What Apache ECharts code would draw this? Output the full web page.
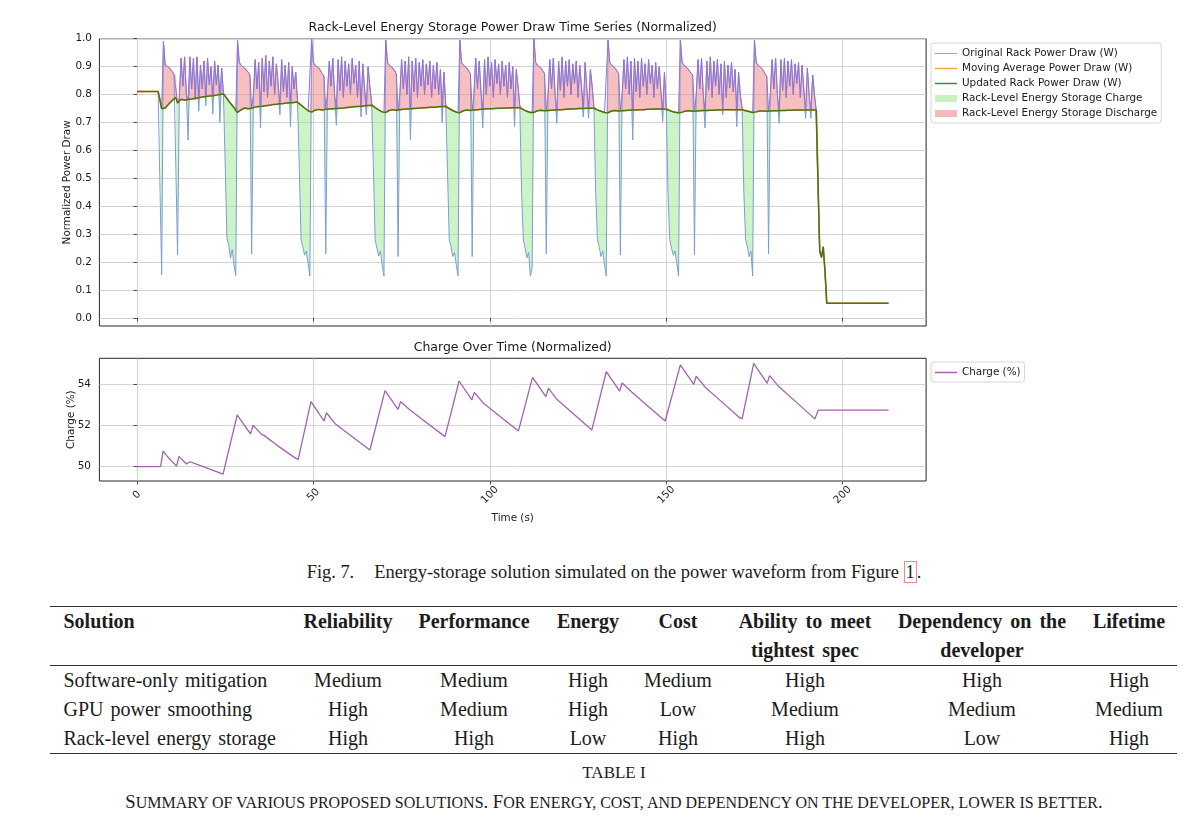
<!DOCTYPE html>
<html lang="en">
<head>
<meta charset="utf-8">
<title>Rack-Level Energy Storage Power Draw</title>
<script src="https://cdn.jsdelivr.net/npm/echarts@6.0.0/dist/echarts.min.js"></script>
<style>
    html, body { margin: 0; padding: 0; background: #fff; }
    #page { position: relative; width: 1200px; height: 833px; overflow: hidden; }
    #chart { position: absolute; left: 0; top: 0; width: 1200px; height: 540px; }
    .serif { font-family: "Liberation Serif", "Times New Roman", serif; color: #1c1c1c; }
    #figCaption { position: absolute; left: 0; top: 560px; width: 1228px; text-align: center; font-size: 18.4px; line-height: 24px; }
    #figCaption .gap { display: inline-block; width: 20px; }
    #figCaption .ref { border: 1px solid #e58c8c; padding: 0 1px; }
    #summaryTable { position: absolute; left: 50px; top: 606px; border-collapse: collapse; table-layout: fixed; width: 1127px; font-size: 20px; line-height: 29px; word-spacing: 2px; }
    #summaryTable th, #summaryTable td { padding: 0; text-align: center; vertical-align: top; white-space: nowrap; }
    #summaryTable th { font-weight: bold; word-spacing: 3px; border-top: 1.6px solid #333; border-bottom: 1px solid #333; }
    #summaryTable tr:last-child td { border-bottom: 1.6px solid #333; }
    #summaryTable .first { text-align: left; padding-left: 13.5px; }
    #tableLabel { position: absolute; left: 0; top: 761px; width: 1228px; text-align: center; font-size: 17px; line-height: 24px; }
    #tableCaption { position: absolute; left: 0; top: 790px; width: 1228px; text-align: center; font-size: 18.6px; line-height: 24px; }
    #tableCaption .sc { font-size: 0.86em; }
</style>
</head>
<body>
<div id="page">
    <div id="chart"></div>
    <div id="figCaption" class="serif">Fig. 7.<span class="gap"></span>Energy-storage solution simulated on the power waveform from Figure <span class="ref">1</span>.</div>
    <table id="summaryTable" class="serif"></table>
    <div id="tableLabel" class="serif">TABLE I</div>
    <div id="tableCaption" class="serif">S<span class="sc">UMMARY OF VARIOUS PROPOSED SOLUTIONS</span>. F<span class="sc">OR ENERGY, COST, AND DEPENDENCY ON THE DEVELOPER, LOWER IS BETTER</span>.</div>
</div>
<script>
// 功率序列：从 t = 0 s 起每 0.5 s 一个采样点
const SAMPLE_STEP = 0.5;

// 原始机架功率（归一化）
const originalDraw = [
    // 0.0 - 6.5 s
    0.811, 0.811, 0.811, 0.811, 0.811, 0.811, 0.811,
    0.811, 0.811, 0.811, 0.811, 0.811, 0.811, 0.811,
    // 7.0 - 28.0 s
    0.155, 0.990, 0.905, 0.900, 0.898, 0.894, 0.882, 0.872, 0.868, 0.226,
    0.790, 0.930, 0.830, 0.935, 0.800, 0.637, 0.935, 0.820, 0.930, 0.780,
    0.935, 0.740, 0.906, 0.820, 0.920, 0.760, 0.930, 0.835, 0.900, 0.730,
    0.920, 0.835, 0.906, 0.700, 0.895, 0.805, 0.550, 0.285, 0.262, 0.214,
    0.245, 0.190, 0.152,
    // 28.5 - 49.0 s
    0.995, 0.915, 0.905, 0.900, 0.895, 0.890, 0.880, 0.870, 0.230, 0.800,
    0.925, 0.820, 0.915, 0.680, 0.930, 0.810, 0.940, 0.790, 0.920, 0.830,
    0.935, 0.800, 0.910, 0.840, 0.727, 0.925, 0.810, 0.905, 0.790, 0.915,
    0.685, 0.900, 0.820, 0.880, 0.775, 0.540, 0.280, 0.255, 0.225, 0.240,
    0.195, 0.150,
    // 49.5 - 70.0 s
    1.000, 0.915, 0.905, 0.900, 0.895, 0.890, 0.875, 0.865, 0.230, 0.810,
    0.920, 0.830, 0.930, 0.800, 0.690, 0.925, 0.815, 0.935, 0.790, 0.920,
    0.830, 0.910, 0.800, 0.930, 0.840, 0.905, 0.790, 0.920, 0.720, 0.910,
    0.820, 0.727, 0.900, 0.830, 0.770, 0.540, 0.280, 0.250, 0.222, 0.240,
    0.190, 0.150,
    // 70.5 - 91.0 s
    0.995, 0.915, 0.905, 0.900, 0.895, 0.885, 0.875, 0.220, 0.800, 0.925,
    0.820, 0.920, 0.800, 0.935, 0.637, 0.920, 0.810, 0.930, 0.790, 0.915,
    0.830, 0.925, 0.800, 0.910, 0.835, 0.920, 0.790, 0.905, 0.820, 0.915,
    0.800, 0.890, 0.700, 0.880, 0.765, 0.530, 0.280, 0.255, 0.220, 0.235,
    0.190, 0.150,
    // 91.5 - 112.0 s
    0.995, 0.915, 0.905, 0.900, 0.895, 0.885, 0.875, 0.220, 0.800, 0.930,
    0.820, 0.920, 0.810, 0.680, 0.925, 0.800, 0.935, 0.830, 0.915, 0.790,
    0.925, 0.840, 0.910, 0.800, 0.920, 0.830, 0.905, 0.790, 0.915, 0.820,
    0.900, 0.685, 0.890, 0.830, 0.760, 0.450, 0.280, 0.250, 0.215, 0.235,
    0.150, 0.180,
    // 112.5 - 133.0 s
    1.000, 0.915, 0.905, 0.900, 0.895, 0.885, 0.875, 0.230, 0.800, 0.925,
    0.820, 0.930, 0.800, 0.697, 0.920, 0.815, 0.935, 0.790, 0.920, 0.830,
    0.925, 0.800, 0.910, 0.840, 0.920, 0.790, 0.905, 0.825, 0.720, 0.915,
    0.820, 0.715, 0.890, 0.830, 0.755, 0.450, 0.280, 0.255, 0.220, 0.240,
    0.190, 0.150,
    // 133.5 - 153.5 s
    0.995, 0.915, 0.905, 0.900, 0.895, 0.885, 0.875, 0.226, 0.800, 0.925,
    0.820, 0.935, 0.800, 0.920, 0.637, 0.930, 0.810, 0.920, 0.790, 0.930,
    0.830, 0.910, 0.800, 0.925, 0.840, 0.905, 0.790, 0.915, 0.820, 0.900,
    0.810, 0.703, 0.880, 0.755, 0.450, 0.280, 0.250, 0.225, 0.240, 0.195,
    0.150,
    // 154.0 - 174.5 s
    0.995, 0.915, 0.905, 0.900, 0.895, 0.885, 0.880, 0.870, 0.226, 0.800,
    0.925, 0.820, 0.930, 0.800, 0.680, 0.920, 0.815, 0.935, 0.790, 0.920,
    0.830, 0.925, 0.800, 0.910, 0.727, 0.920, 0.790, 0.905, 0.825, 0.915,
    0.810, 0.890, 0.685, 0.880, 0.800, 0.750, 0.450, 0.280, 0.255, 0.220,
    0.240, 0.150,
    // 175.0 - 193.0 s
    0.995, 0.915, 0.905, 0.900, 0.895, 0.885, 0.875, 0.865, 0.230, 0.800,
    0.925, 0.820, 0.930, 0.800, 0.697, 0.925, 0.815, 0.930, 0.790, 0.920,
    0.830, 0.925, 0.800, 0.910, 0.840, 0.915, 0.790, 0.905, 0.820, 0.715,
    0.895, 0.800, 0.715, 0.870, 0.800, 0.745, 0.450,
    // 193.5 - 213.0 s
    0.240, 0.217, 0.255, 0.166, 0.0525, 0.0525, 0.0525, 0.0525, 0.0525, 0.0525,
    0.0525, 0.0525, 0.0525, 0.0525, 0.0525, 0.0525, 0.0525, 0.0525, 0.0525, 0.0525,
    0.0525, 0.0525, 0.0525, 0.0525, 0.0525, 0.0525, 0.0525, 0.0525, 0.0525, 0.0525,
    0.0525, 0.0525, 0.0525, 0.0525, 0.0525, 0.0525, 0.0525, 0.0525, 0.0525, 0.0525
];

// 储能平滑后的机架功率（同一采样点）
const updatedDraw = [
    // 0.0 - 6.5 s
    0.811, 0.811, 0.811, 0.811, 0.811, 0.811, 0.811,
    0.811, 0.811, 0.811, 0.811, 0.811, 0.811, 0.811,
    // 7.0 - 28.0 s
    0.750, 0.745, 0.752, 0.759, 0.766, 0.773, 0.779, 0.785, 0.790, 0.770,
    0.776, 0.783, 0.781, 0.780, 0.781, 0.782, 0.783, 0.784, 0.786, 0.787,
    0.788, 0.789, 0.790, 0.791, 0.792, 0.793, 0.794, 0.795, 0.796, 0.796,
    0.797, 0.798, 0.799, 0.800, 0.801, 0.802, 0.794, 0.786, 0.777, 0.769,
    0.761, 0.753, 0.744,
    // 28.5 - 49.0 s
    0.736, 0.741, 0.745, 0.749, 0.752, 0.752, 0.749, 0.748, 0.751, 0.754,
    0.755, 0.756, 0.757, 0.758, 0.758, 0.759, 0.760, 0.761, 0.762, 0.763,
    0.764, 0.764, 0.765, 0.766, 0.767, 0.768, 0.768, 0.769, 0.770, 0.771,
    0.771, 0.772, 0.772, 0.773, 0.773, 0.768, 0.762, 0.757, 0.752, 0.747,
    0.742, 0.739,
    // 49.5 - 70.0 s
    0.737, 0.741, 0.744, 0.746, 0.747, 0.747, 0.745, 0.745, 0.747, 0.748,
    0.748, 0.749, 0.749, 0.750, 0.750, 0.751, 0.751, 0.752, 0.752, 0.753,
    0.754, 0.754, 0.755, 0.755, 0.756, 0.757, 0.757, 0.758, 0.758, 0.759,
    0.760, 0.760, 0.761, 0.761, 0.762, 0.758, 0.753, 0.749, 0.745, 0.741,
    0.738, 0.736,
    // 70.5 - 91.0 s
    0.736, 0.740, 0.743, 0.745, 0.746, 0.746, 0.744, 0.744, 0.746, 0.746,
    0.747, 0.747, 0.748, 0.748, 0.749, 0.749, 0.750, 0.750, 0.751, 0.751,
    0.752, 0.752, 0.753, 0.753, 0.754, 0.754, 0.755, 0.755, 0.755, 0.756,
    0.756, 0.756, 0.757, 0.757, 0.757, 0.753, 0.750, 0.746, 0.743, 0.740,
    0.737, 0.735,
    // 91.5 - 112.0 s
    0.735, 0.739, 0.742, 0.744, 0.745, 0.745, 0.743, 0.743, 0.745, 0.745,
    0.746, 0.746, 0.747, 0.747, 0.748, 0.748, 0.749, 0.749, 0.749, 0.750,
    0.750, 0.750, 0.751, 0.751, 0.751, 0.752, 0.752, 0.752, 0.752, 0.753,
    0.753, 0.753, 0.753, 0.753, 0.753, 0.750, 0.746, 0.743, 0.740, 0.738,
    0.736, 0.736,
    // 112.5 - 133.0 s
    0.736, 0.739, 0.742, 0.743, 0.744, 0.744, 0.742, 0.742, 0.743, 0.744,
    0.744, 0.745, 0.745, 0.745, 0.746, 0.746, 0.746, 0.747, 0.747, 0.747,
    0.748, 0.748, 0.748, 0.749, 0.749, 0.749, 0.750, 0.750, 0.750, 0.750,
    0.751, 0.751, 0.751, 0.751, 0.751, 0.748, 0.745, 0.742, 0.740, 0.738,
    0.736, 0.735,
    // 133.5 - 153.5 s
    0.735, 0.738, 0.741, 0.742, 0.743, 0.743, 0.741, 0.741, 0.742, 0.743,
    0.743, 0.744, 0.744, 0.744, 0.745, 0.745, 0.745, 0.746, 0.746, 0.746,
    0.746, 0.747, 0.747, 0.747, 0.747, 0.748, 0.748, 0.748, 0.748, 0.748,
    0.748, 0.748, 0.748, 0.748, 0.745, 0.742, 0.740, 0.738, 0.737, 0.736,
    0.735,
    // 154.0 - 174.5 s
    0.735, 0.737, 0.740, 0.741, 0.742, 0.742, 0.741, 0.740, 0.740, 0.741,
    0.742, 0.742, 0.742, 0.743, 0.743, 0.743, 0.744, 0.744, 0.744, 0.744,
    0.745, 0.745, 0.745, 0.745, 0.745, 0.746, 0.746, 0.746, 0.746, 0.746,
    0.746, 0.746, 0.746, 0.746, 0.746, 0.746, 0.744, 0.742, 0.740, 0.739,
    0.737, 0.736,
    // 175.0 - 193.0 s
    0.736, 0.738, 0.740, 0.741, 0.741, 0.741, 0.740, 0.740, 0.740, 0.741,
    0.741, 0.742, 0.742, 0.742, 0.743, 0.743, 0.743, 0.743, 0.744, 0.744,
    0.744, 0.744, 0.744, 0.745, 0.745, 0.745, 0.745, 0.745, 0.745, 0.745,
    0.745, 0.745, 0.745, 0.745, 0.745, 0.745, 0.745,
    // 193.5 - 213.0 s
    0.240, 0.217, 0.255, 0.166, 0.0525, 0.0525, 0.0525, 0.0525, 0.0525, 0.0525,
    0.0525, 0.0525, 0.0525, 0.0525, 0.0525, 0.0525, 0.0525, 0.0525, 0.0525, 0.0525,
    0.0525, 0.0525, 0.0525, 0.0525, 0.0525, 0.0525, 0.0525, 0.0525, 0.0525, 0.0525,
    0.0525, 0.0525, 0.0525, 0.0525, 0.0525, 0.0525, 0.0525, 0.0525, 0.0525, 0.0525
];

// 移动平均与平滑后曲线重合（图中被绿色曲线盖住）
const movingAvgDraw = updatedDraw;

// 储能电量（%）
const chargeTime = [
    0, 6.7, 7.4, 9.0, 11.2, 11.9, 14.0, 15.0, 18.0, 21.0, 24.4, 24.9,
    28.4, 30.5, 32.2, 32.9, 35.3, 36.0, 40.0, 44.7, 45.7,
    49.3, 51.5, 53.0, 53.7, 56.1, 60.0, 66.0, 66.5,
    70.3, 74.0, 74.7, 77.4, 82.0, 87.3, 87.7,
    91.3, 94.9, 95.6, 98.2, 103.0, 108.1, 108.6,
    112.1, 115.9, 116.6, 119.0, 124.0, 128.9, 129.4,
    133.0, 136.8, 137.5, 140.3, 145.0, 149.7, 150.2,
    154.0, 157.8, 158.5, 161.1, 166.0, 170.8, 171.5,
    174.8, 178.6, 179.3, 181.9, 187.0, 191.4, 192.1, 193.1, 213.0
];
const chargePct = [
    50.0, 50.0, 50.76, 50.42, 50.03, 50.50, 50.13, 50.24, 50.05, 49.86, 49.64, 49.62,
    52.51, 52.0, 51.59, 52.02, 51.57, 51.52, 51.0, 50.44, 50.36,
    53.16, 52.6, 52.22, 52.62, 52.10, 51.59, 50.81, 50.76,
    53.69, 52.78, 53.16, 52.75, 52.15, 51.46, 51.38,
    54.16, 53.24, 53.61, 53.08, 52.43, 51.73, 51.68,
    54.34, 53.40, 53.81, 53.27, 52.52, 51.78, 51.73,
    54.61, 53.67, 54.06, 53.61, 52.91, 52.22, 52.15,
    54.94, 54.0, 54.39, 53.85, 53.11, 52.38, 52.32,
    55.02, 54.05, 54.42, 53.89, 53.11, 52.43, 52.32, 52.75, 52.75
];

// 刻度
const timeTicks = [0, 50, 100, 150, 200];
const powerTicks = [0.0, 0.1, 0.2, 0.3, 0.4, 0.5, 0.6, 0.7, 0.8, 0.9, 1.0];
const chargeTicks = [50, 52, 54];

// 表格内容
const tableHeader = [
    ['Solution'], ['Reliability'], ['Performance'], ['Energy'], ['Cost'],
    ['Ability to meet', 'tightest spec'], ['Dependency on the', 'developer'], ['Lifetime']
];
const solutionNames = ['Software-only mitigation', 'GPU power smoothing', 'Rack-level energy storage'];
const ratingRows = [
    ['Medium', 'Medium', 'High', 'Medium', 'High', 'High', 'High'],
    ['High', 'Medium', 'High', 'Low', 'Medium', 'Medium', 'Medium'],
    ['High', 'High', 'Low', 'High', 'High', 'Low', 'High']
];
const columnWidths = [245, 106, 146, 82, 98, 156, 198, 96];

// 样式常量
const FONT = 'DejaVu Sans';
const INK = '#1a1a1a';
const FRAME = '#262626';
const GRID_COLOR = '#c9c9c9';
const X_MIN = -10.65;
const X_MAX = 223.65;
const LINE_ICON = 'path://M0,0h0.01v0.01h-0.01zM0,2.9h22v1.2h-22zM0,6.99h0.01v0.01h-0.01z';
const THICK_ICON = 'path://M0,0h0.01v0.01h-0.01zM0,2.75h22v1.5h-22zM0,6.99h0.01v0.01h-0.01z';

const chartDom = document.getElementById('chart');
const powerChart = echarts.init(chartDom);

// 生成表格
function buildTable() {
    const table = document.getElementById('summaryTable');
    const colgroup = document.createElement('colgroup');
    columnWidths.forEach(w => {
        const col = document.createElement('col');
        col.style.width = w + 'px';
        colgroup.appendChild(col);
    });
    table.appendChild(colgroup);

    const headRow = table.createTHead().insertRow();
    tableHeader.forEach((lines, i) => {
        const th = document.createElement('th');
        th.innerHTML = lines.join('<br>');
        if (i === 0) th.className = 'first';
        headRow.appendChild(th);
    });

    const body = table.createTBody();
    solutionNames.forEach((name, r) => {
        const tr = body.insertRow();
        const first = tr.insertCell();
        first.textContent = name;
        first.className = 'first';
        ratingRows[r].forEach(v => {
            tr.insertCell().textContent = v;
        });
    });
}

// 时间轴（两张子图共用同一范围）
function timeAxis(gridIndex, showLabels) {
    const axis = {
        type: 'value',
        gridIndex: gridIndex,
        min: X_MIN,
        max: X_MAX,
        minInterval: 50,
        maxInterval: 50,
        axisLine: { show: false },
        axisTick: { show: true, customValues: timeTicks, length: 3.5, lineStyle: { color: FRAME, width: 0.8 } },
        axisLabel: { show: false },
        splitLine: { show: true, lineStyle: { color: GRID_COLOR, width: 0.8 } }
    };
    if (showLabels) {
        axis.axisLabel = {
            show: true,
            customValues: timeTicks,
            rotate: 45,
            align: 'center',
            verticalAlign: 'middle',
            margin: 14,
            fontFamily: FONT,
            fontSize: 10.4,
            color: INK
        };
        axis.name = 'Time (s)';
        axis.nameLocation = 'middle';
        axis.nameGap = 32;
        axis.nameMoveOverlap = false;
        axis.nameTextStyle = { fontFamily: FONT, fontSize: 10.4, color: INK };
    }
    return axis;
}

function legendBox(top, items) {
    return {
        orient: 'vertical',
        left: 931,
        top: top,
        padding: [3, 4, 2, 4],
        itemWidth: 22,
        itemHeight: 7,
        itemGap: 0,
        borderColor: '#cccccc',
        borderWidth: 0.8,
        borderRadius: 3,
        backgroundColor: 'rgba(255,255,255,0.8)',
        selectedMode: false,
        textStyle: { fontFamily: FONT, fontSize: 10.4, color: INK, lineHeight: 15 },
        data: items
    };
}

// 两条曲线之间的填充带：维度 0 = 时间，1 = 下沿，2 = 上沿
function renderBand(fillColor) {
    return function (params, api) {
        if (params.dataIndexInside !== 0) return null;
        const n = params.dataInsideLength;
        const points = [];
        for (let j = 0; j < n; j++) {
            points.push(api.coord([api.value(0, j), api.value(2, j)]));
        }
        for (let j = n - 1; j >= 0; j--) {
            points.push(api.coord([api.value(0, j), api.value(1, j)]));
        }
        return {
            type: 'polygon',
            shape: { points: points },
            style: { fill: fillColor }
        };
    };
}

function buildOption() {
    const timeOf = i => i * SAMPLE_STEP;
    const originalPts = originalDraw.map((v, i) => [timeOf(i), v]);
    const updatedPts = updatedDraw.map((v, i) => [timeOf(i), v]);
    const movingPts = movingAvgDraw.map((v, i) => [timeOf(i), v]);
    // 充电：原始低于平滑的部分；放电：原始高于平滑的部分
    const chargeBand = originalDraw.map((v, i) => [timeOf(i), Math.min(v, updatedDraw[i]), updatedDraw[i]]);
    const dischargeBand = originalDraw.map((v, i) => [timeOf(i), updatedDraw[i], Math.max(v, updatedDraw[i])]);
    const dischargeEdge = originalDraw.map((v, i) => [timeOf(i), Math.max(v, updatedDraw[i])]);
    const chargePts = chargeTime.map((t, i) => [t, chargePct[i]]);

    const plainLine = { type: 'line', symbol: 'none', showSymbol: false, smooth: false, animation: false };

    return {
        animation: false,
        textStyle: { fontFamily: FONT },
        title: [
            {
                text: 'Rack-Level Energy Storage Power Draw Time Series (Normalized)',
                left: 512.7, top: 20.5, textAlign: 'center', padding: 0,
                textStyle: { fontFamily: FONT, fontSize: 12.5, fontWeight: 'normal', color: INK, lineHeight: 15 }
            },
            {
                text: 'Charge Over Time (Normalized)',
                left: 512.7, top: 339.8, textAlign: 'center', padding: 0,
                textStyle: { fontFamily: FONT, fontSize: 12.5, fontWeight: 'normal', color: INK, lineHeight: 15 }
            }
        ],
        legend: [
            legendBox(43, [
                { name: 'Original Rack Power Draw (W)', icon: LINE_ICON, itemStyle: { color: '#9d9de8', borderWidth: 0 } },
                { name: 'Moving Average Power Draw (W)', icon: THICK_ICON, itemStyle: { color: '#f5a54a', borderWidth: 0 } },
                { name: 'Updated Rack Power Draw (W)', icon: THICK_ICON, itemStyle: { color: '#3f8a3f', borderWidth: 0 } },
                { name: 'Rack-Level Energy Storage Charge', icon: 'rect', itemStyle: { color: '#c8f2c0', borderWidth: 0 } },
                { name: 'Rack-Level Energy Storage Discharge', icon: 'rect', itemStyle: { color: '#f2bcbc', borderWidth: 0 } }
            ]),
            legendBox(362, [
                { name: 'Charge (%)', icon: THICK_ICON, itemStyle: { color: '#a262b0', borderWidth: 0 } }
            ])
        ],
        grid: [
            { left: 99.4, top: 38.7, width: 826.7, height: 287.3, show: true, borderColor: FRAME, borderWidth: 1, backgroundColor: 'transparent' },
            { left: 99.4, top: 358.3, width: 826.7, height: 122.7, show: true, borderColor: FRAME, borderWidth: 1, backgroundColor: 'transparent' }
        ],
        xAxis: [timeAxis(0, false), timeAxis(1, true)],
        yAxis: [
            {
                type: 'value', gridIndex: 0, min: -0.0286, max: 1.0,
                minInterval: 0.1, maxInterval: 0.1,
                name: 'Normalized Power Draw', nameLocation: 'middle', nameGap: 27, nameMoveOverlap: false,
                nameTextStyle: { fontFamily: FONT, fontSize: 10.4, color: INK },
                axisLine: { show: false },
                axisTick: { show: true, customValues: powerTicks, length: 3.5, lineStyle: { color: FRAME, width: 0.8 } },
                axisLabel: { customValues: powerTicks, formatter: v => v.toFixed(1), margin: 7.5, fontFamily: FONT, fontSize: 10.4, color: INK },
                splitLine: { show: true, lineStyle: { color: GRID_COLOR, width: 0.8 } }
            },
            {
                type: 'value', gridIndex: 1, min: 49.306, max: 55.262,
                minInterval: 2, maxInterval: 2,
                name: 'Charge (%)', nameLocation: 'middle', nameGap: 23, nameMoveOverlap: false,
                nameTextStyle: { fontFamily: FONT, fontSize: 10.4, color: INK },
                axisLine: { show: false },
                axisTick: { show: true, customValues: chargeTicks, length: 3.5, lineStyle: { color: FRAME, width: 0.8 } },
                axisLabel: { customValues: chargeTicks, formatter: v => String(Math.round(v)), margin: 8.5, fontFamily: FONT, fontSize: 10.4, color: INK },
                splitLine: { show: true, lineStyle: { color: GRID_COLOR, width: 0.8 } }
            }
        ],
        series: [
            {
                type: 'custom', name: 'Rack-Level Energy Storage Charge', silent: true,
                itemStyle: { color: '#c8f2c0' },
                data: chargeBand, encode: { x: 0, y: [1, 2] },
                renderItem: renderBand('rgba(144,230,130,0.45)')
            },
            Object.assign({}, plainLine, {
                name: 'Original Rack Power Draw (W)',
                data: originalPts, itemStyle: { color: '#9d9de8' },
                lineStyle: { color: '#7d9dd9', width: 1 }
            }),
            {
                type: 'custom', name: 'Rack-Level Energy Storage Discharge', silent: true,
                itemStyle: { color: '#f2bcbc' },
                data: dischargeBand, encode: { x: 0, y: [1, 2] },
                renderItem: renderBand('rgba(240,128,128,0.5)')
            },
            Object.assign({}, plainLine, {
                name: 'dischargeEdge', silent: true,
                data: dischargeEdge,
                lineStyle: { color: '#9a70cf', width: 1 }
            }),
            Object.assign({}, plainLine, {
                name: 'Moving Average Power Draw (W)',
                data: movingPts, itemStyle: { color: '#f5a54a' },
                lineStyle: { color: '#ff8c1a', width: 1.5 }
            }),
            Object.assign({}, plainLine, {
                name: 'Updated Rack Power Draw (W)',
                data: updatedPts, itemStyle: { color: '#3f8a3f' },
                lineStyle: { color: '#1f6f10', width: 1.5, opacity: 0.8 }
            }),
            Object.assign({}, plainLine, {
                name: 'Charge (%)', xAxisIndex: 1, yAxisIndex: 1,
                data: chargePts, itemStyle: { color: '#a262b0' },
                lineStyle: { color: '#a262b0', width: 1.3 }
            })
        ]
    };
}

// 初始化
if (originalDraw.length !== updatedDraw.length) {
    console.error('采样点数量不一致:', originalDraw.length, updatedDraw.length);
}
buildTable();
powerChart.setOption(buildOption());

window.addEventListener('resize', () => {
    powerChart.resize();
});
</script>
</body>
</html>
